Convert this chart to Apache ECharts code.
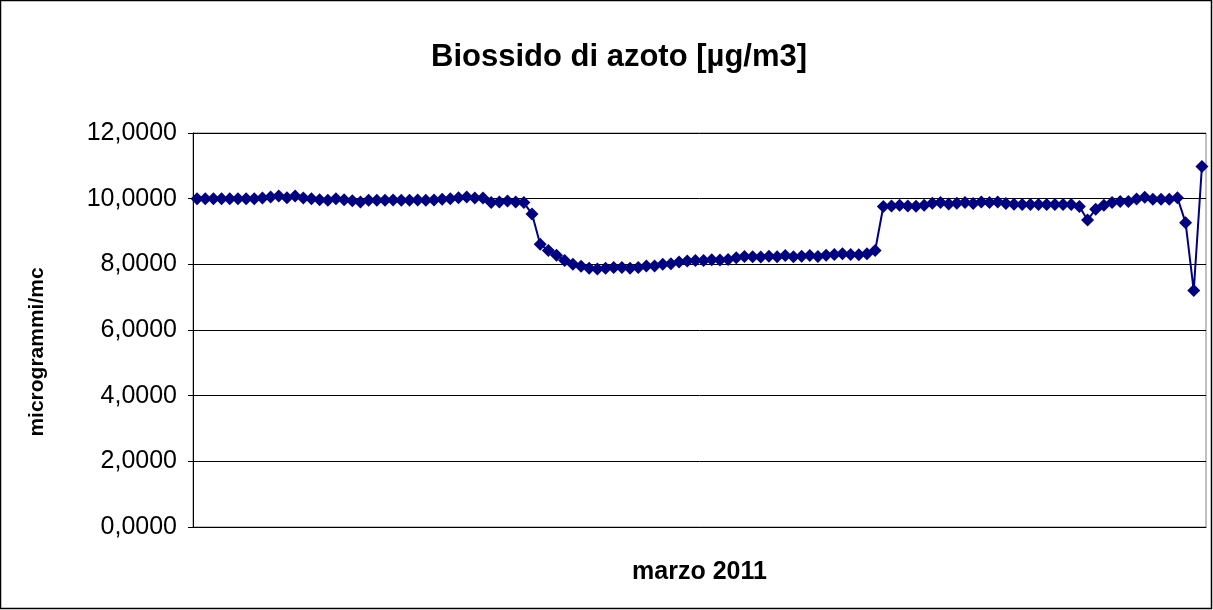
<!DOCTYPE html>
<html>
<head>
<meta charset="utf-8">
<script src="https://cdn.jsdelivr.net/npm/echarts@6/dist/echarts.min.js"></script>
<style>
html,body{margin:0;padding:0;background:#fff;}
#chart{width:1213px;height:610px;}
</style>
</head>
<body>
<div id="chart"></div>
<script>
// ---- data ----
var titleText = 'Biossido di azoto [µg/m3]';
var yAxisName = 'microgrammi/mc';
var xAxisName = 'marzo 2011';
var yTicks = [0, 2, 4, 6, 8, 10, 12];
var seriesName = 'NO2';
var values = [
  10.00, 10.00, 10.00, 10.00, 10.00, 10.00, 10.00, 10.00, 10.02, 10.05,
  10.08, 10.03, 10.08, 10.02, 10.00, 9.97, 9.95, 10.00, 9.97, 9.94,
  9.90, 9.95, 9.95, 9.95, 9.96, 9.95, 9.95, 9.96, 9.95, 9.96,
  9.98, 10.00, 10.03, 10.05, 10.02, 10.02, 9.88, 9.90, 9.93, 9.90,
  9.88, 9.53, 8.61, 8.42, 8.28, 8.12, 8.00, 7.94, 7.88, 7.86,
  7.88, 7.90, 7.90, 7.88, 7.90, 7.95, 7.95, 8.00, 8.02, 8.07,
  8.10, 8.12, 8.12, 8.14, 8.13, 8.15, 8.20, 8.24, 8.23, 8.22,
  8.25, 8.23, 8.27, 8.23, 8.25, 8.27, 8.24, 8.28, 8.30, 8.32,
  8.30, 8.29, 8.32, 8.42, 9.76, 9.78, 9.80, 9.78, 9.77, 9.80,
  9.86, 9.88, 9.84, 9.86, 9.88, 9.85, 9.90, 9.88, 9.90, 9.85,
  9.83, 9.82, 9.82, 9.82, 9.82, 9.82, 9.82, 9.82, 9.76, 9.35,
  9.68, 9.80, 9.88, 9.91, 9.91, 9.99, 10.04, 9.98, 9.98, 9.98,
  10.03, 9.27, 7.20, 10.98
];
var hours = ['00', '06', '12', '18'];
var categories = [];
for (var d = 1; d <= 31; d++) {
  for (var h = 0; h < hours.length; h++) {
    categories.push((d < 10 ? '0' + d : '' + d) + '/03/2011 ' + hours[h] + ':00');
  }
}

// ---- chart ----
var FONT = 'Liberation Sans, Arial, sans-serif';
var chart = echarts.init(document.getElementById('chart'), null, {renderer: 'canvas'});
chart.setOption({
  animation: false,
  backgroundColor: '#ffffff',
  title: {
    text: titleText,
    left: 426,
    top: 37,
    textStyle: {fontFamily: FONT, fontWeight: 'bold', fontSize: 31, color: '#000'}
  },
  grid: {left: 193, top: 133, width: 1013, height: 394, containLabel: false,
         show: true, borderColor: '#808080', borderWidth: 1},
  xAxis: {
    type: 'category',
    data: categories,
    boundaryGap: true,
    name: xAxisName,
    nameLocation: 'middle',
    nameGap: 33,
    nameTextStyle: {fontFamily: FONT, fontWeight: 'bold', fontSize: 25, color: '#000'},
    axisLine: {show: true, lineStyle: {color: '#000', width: 1}},
    axisTick: {show: false},
    axisLabel: {show: false},
    splitLine: {show: false}
  },
  yAxis: {
    type: 'value',
    min: yTicks[0],
    max: yTicks[yTicks.length - 1],
    interval: yTicks[1] - yTicks[0],
    name: yAxisName,
    nameLocation: 'middle',
    nameRotate: 90,
    nameGap: 145,
    nameTextStyle: {fontFamily: FONT, fontWeight: 'bold', fontSize: 21, color: '#000',
                    padding: [0, 44, 0, 0]},
    axisLine: {show: true, lineStyle: {color: '#000', width: 1}},
    axisTick: {show: true, inside: false, length: 5, lineStyle: {color: '#000'}},
    axisLabel: {
      margin: 16,
      fontFamily: FONT, fontSize: 25, color: '#000',
      formatter: function (v) { return v.toFixed(4).replace('.', ','); }
    },
    splitLine: {show: true, lineStyle: {color: '#000', width: 1}}
  },
  series: [{
    name: seriesName,
    type: 'line',
    data: values,
    symbol: 'diamond',
    symbolSize: 13,
    showAllSymbol: true,
    lineStyle: {color: '#000080', width: 2},
    itemStyle: {color: '#000080'}
  }],
  graphic: [{
    type: 'rect',
    shape: {x: 0.5, y: 0.5, width: 1211, height: 608},
    style: {fill: 'none', stroke: '#000', lineWidth: 1.5},
    silent: true
  }]
});
</script>
</body>
</html>
